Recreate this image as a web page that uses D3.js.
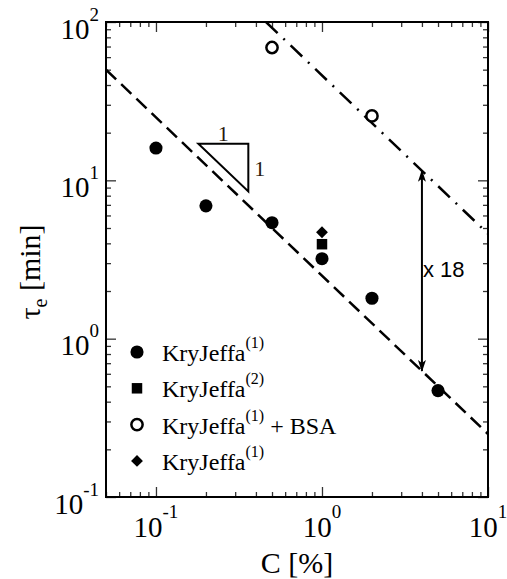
<!DOCTYPE html>
<html>
<head>
<meta charset="utf-8">
<script src="https://cdn.jsdelivr.net/npm/d3@7"></script>
<style>
  body { margin: 0; background: #fff; }
  svg { display: block; }
</style>
</head>
<body>
<svg width="507" height="579"></svg>
<script>
// data
const kj1C = [0.1, 0.2, 0.5, 1, 2, 5];
const kj1Tau = [16, 6.9, 5.4, 3.2, 1.8, 0.47];
const kj2C = [1];
const kj2Tau = [3.95];
const bsaC = [0.5, 2];
const bsaTau = [69, 25.5];
const kj1bC = [1];
const kj1bTau = [4.7];

// guide lines (end points, data units)
const dashedLine = [[0.05, 50], [10, 0.25]];
const dashDotLine = [[0.46, 100], [10, 4.6]];
const arrowPts = [[4, 11.5], [4, 0.625]];
const slopeTri = [[0.18, 17], [0.36, 17], [0.36, 8.5]];

const xMajor = [0.1, 1, 10];
const xExp = ["-1", "0", "1"];
const yMajor = [0.1, 1, 10, 100];
const yExp = ["-1", "0", "1", "2"];

const legendLabels = [
  ["KryJeffa", "(1)", ""],
  ["KryJeffa", "(2)", ""],
  ["KryJeffa", "(1)", " + BSA"],
  ["KryJeffa", "(1)", ""]
];

let margin = {top: 22, right: 19, bottom: 82, left: 106};
let W = 507, H = 579;
let width = W - margin.left - margin.right;
let height = H - margin.top - margin.bottom;

const svg = d3.select("svg");
const serif = "'Liberation Serif', 'Times New Roman', serif";

const x = d3.scaleLog().domain([0.05, 10]).range([margin.left, margin.left + width]);
const y = d3.scaleLog().domain([0.1, 100]).range([margin.top + height, margin.top]);

function minors(lo, hi) {
    let out = [];
    for (let e = -2; e <= 2; e++) {
        for (let m = 2; m <= 9; m++) {
            let v = m * Math.pow(10, e);
            if (v >= lo * 0.999 && v <= hi * 1.001) out.push(v);
        }
    }
    return out;
}
const xMinor = minors(0.05, 10);
const yMinor = minors(0.1, 100);

// ticks on all four sides, pointing inward
const x0 = margin.left, x1 = margin.left + width;
const y0 = margin.top, y1 = margin.top + height;

function tickAxis(axis, tx, ty, values, len) {
    svg.append("g")
        .attr("transform", `translate(${tx},${ty})`)
        .call(axis.tickValues(values).tickSize(len).tickFormat(""))
        .call(g => g.select(".domain").remove())
        .call(g => g.selectAll(".tick line").attr("stroke", "#333").attr("stroke-width", 1.3));
}
tickAxis(d3.axisBottom(x), 0, y1, xMajor, -10);
tickAxis(d3.axisBottom(x), 0, y1, xMinor, -5);
tickAxis(d3.axisTop(x), 0, y0, xMajor, -10);
tickAxis(d3.axisTop(x), 0, y0, xMinor, -5);
tickAxis(d3.axisLeft(y), x0, 0, yMajor, -10);
tickAxis(d3.axisLeft(y), x0, 0, yMinor, -5);
tickAxis(d3.axisRight(y), x1, 0, yMajor, -10);
tickAxis(d3.axisRight(y), x1, 0, yMinor, -5);

// frame
svg.append("rect")
    .attr("x", x0).attr("y", y0)
    .attr("width", width).attr("height", height)
    .attr("fill", "none")
    .attr("stroke", "#000")
    .attr("stroke-width", 2);

// tick labels: 10 with superscript
const xl = svg.append("g").attr("font-family", serif).attr("fill", "#000");
xMajor.forEach((v, i) => {
    const t = xl.append("text")
        .attr("x", x(v))
        .attr("y", y1 + 40)
        .attr("text-anchor", "middle")
        .attr("font-size", 29);
    t.append("tspan").text("10");
    t.append("tspan").attr("font-size", 19).attr("dy", -19).text(xExp[i]);
});

const yl = svg.append("g").attr("font-family", serif).attr("fill", "#000");
yMajor.forEach((v, i) => {
    const t = yl.append("text")
        .attr("x", x0 - 7)
        .attr("y", y(v) + 16.5)
        .attr("text-anchor", "end")
        .attr("font-size", 29);
    t.append("tspan").text("10");
    t.append("tspan").attr("font-size", 19).attr("dy", -18).text(yExp[i]);
});

// axis titles
svg.append("text")
    .attr("x", (x0 + x1) / 2)
    .attr("y", 573)
    .attr("text-anchor", "middle")
    .attr("font-family", serif)
    .attr("font-size", 30)
    .text("C [%]");

const yt = svg.append("text")
    .attr("transform", "translate(40,272) rotate(-90)")
    .attr("text-anchor", "middle")
    .attr("font-family", serif)
    .attr("font-size", 30);
yt.append("tspan").text("\u03C4");
yt.append("tspan").attr("font-size", 20).attr("dy", 7).text("e");
yt.append("tspan").attr("dy", -7).text(" [min]");

// plot content, clipped to the frame
svg.append("clipPath").attr("id", "clip")
    .append("rect").attr("x", x0).attr("y", y0).attr("width", width).attr("height", height);
const plot = svg.append("g").attr("clip-path", "url(#clip)");

const line = d3.line().x(d => x(d[0])).y(d => y(d[1]));

plot.append("path")
    .attr("d", line(dashedLine))
    .attr("fill", "none")
    .attr("stroke", "#000")
    .attr("stroke-width", 2.5)
    .attr("stroke-dasharray", "14,7");

plot.append("path")
    .attr("d", line(dashDotLine))
    .attr("fill", "none")
    .attr("stroke", "#000")
    .attr("stroke-width", 2.5)
    .attr("stroke-dasharray", "16,8,2,8");

// slope triangle
plot.append("path")
    .attr("d", line(slopeTri) + "Z")
    .attr("fill", "none")
    .attr("stroke", "#000")
    .attr("stroke-width", 2);

svg.append("text")
    .attr("x", (x(slopeTri[0][0]) + x(slopeTri[1][0])) / 2)
    .attr("y", y(slopeTri[0][1]) - 3)
    .attr("text-anchor", "middle")
    .attr("font-family", serif)
    .attr("font-size", 22)
    .attr("fill", "#2a1a10")
    .text("1");
svg.append("text")
    .attr("x", x(slopeTri[1][0]) + 6)
    .attr("y", (y(slopeTri[1][1]) + y(slopeTri[2][1])) / 2 + 8)
    .attr("font-family", serif)
    .attr("font-size", 22)
    .attr("fill", "#2a1a10")
    .text("1");

// double arrow
const defs = svg.append("defs");
defs.append("marker")
    .attr("id", "head")
    .attr("viewBox", "0 -5 12 10")
    .attr("refX", 11).attr("refY", 0)
    .attr("markerWidth", 12).attr("markerHeight", 10)
    .attr("markerUnits", "userSpaceOnUse")
    .attr("orient", "auto-start-reverse")
    .append("path")
    .attr("d", "M0,-4L12,0L0,4L3,0Z")
    .attr("fill", "#000");

plot.append("path")
    .attr("d", line(arrowPts))
    .attr("fill", "none")
    .attr("stroke", "#000")
    .attr("stroke-width", 2)
    .attr("marker-start", "url(#head)")
    .attr("marker-end", "url(#head)");

svg.append("text")
    .attr("x", x(arrowPts[0][0]) + 1)
    .attr("y", 277)
    .attr("font-family", "'Liberation Sans', Arial, sans-serif")
    .attr("font-size", 22)
    .text("x 18");

// markers
const sym = (type, size) => d3.symbol().type(type).size(size)();

function drawSeries(cs, ts, type, size, fill, rot) {
    plot.append("g").selectAll("path")
        .data(cs.map((c, i) => [c, ts[i]]))
        .join("path")
        .attr("d", sym(type, size))
        .attr("transform", d => `translate(${x(d[0])},${y(d[1])}) rotate(${rot || 0})`)
        .attr("fill", fill)
        .attr("stroke", "#000")
        .attr("stroke-width", fill === "#fff" ? 2.5 : 0);
}
drawSeries(kj1C, kj1Tau, d3.symbolCircle, 135, "#000");
drawSeries(kj2C, kj2Tau, d3.symbolSquare, 110, "#000");
drawSeries(bsaC, bsaTau, d3.symbolCircle, 100, "#fff");
drawSeries(kj1bC, kj1bTau, d3.symbolSquare, 70, "#000", 45);

// legend
const legendSyms = [
    [d3.symbolCircle, 135, "#000", 0],
    [d3.symbolSquare, 110, "#000", 0],
    [d3.symbolCircle, 100, "#fff", 0],
    [d3.symbolSquare, 70, "#000", 45]
];
const leg = svg.append("g").attr("transform", "translate(137,352)");
legendLabels.forEach((lab, i) => {
    const row = leg.append("g").attr("transform", `translate(0,${i * 36.3})`);
    const s = legendSyms[i];
    row.append("path")
        .attr("d", sym(s[0], s[1]))
        .attr("transform", `rotate(${s[3]})`)
        .attr("fill", s[2])
        .attr("stroke", "#000")
        .attr("stroke-width", s[2] === "#fff" ? 2.5 : 0);
    const t = row.append("text")
        .attr("x", 25)
        .attr("y", 9)
        .attr("font-family", serif)
        .attr("font-size", 24);
    t.append("tspan").text(lab[0]);
    t.append("tspan").attr("font-size", 16).attr("dy", -13).text(lab[1]);
    if (lab[2]) t.append("tspan").attr("dy", 13).text(lab[2]);
});
</script>
</body>
</html>
